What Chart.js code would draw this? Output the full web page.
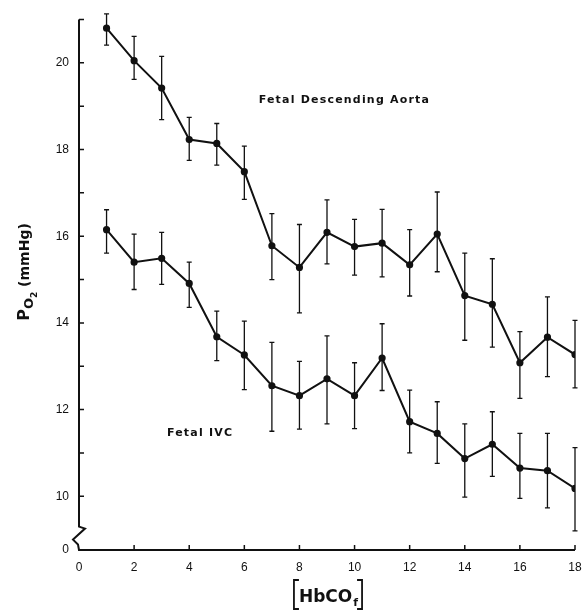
<!DOCTYPE html>
<html>
<head>
<meta charset="utf-8">
<script src="https://cdn.jsdelivr.net/npm/chart.js@4.4.0/dist/chart.umd.min.js"></script>
<style>
  html, body { margin: 0; padding: 0; background: #fff; }
</style>
</head>
<body>
<canvas id="myChartPO2" width="584" height="611"></canvas>
<script>
// HbCO fetal concentration steps
var hbco = [1, 2, 3, 4, 5, 6, 7, 8, 9, 10, 11, 12, 13, 14, 15, 16, 17, 18];

// Fetal descending aorta: mean, top and bottom of the error bar
var aortaPO2  = [20.80, 20.05, 19.42, 18.23, 18.14, 17.49, 15.78, 15.28, 16.09, 15.76, 15.84, 15.34, 16.05, 14.63, 14.43, 13.08, 13.67, 13.27];
var aortaHigh = [21.13, 20.61, 20.15, 18.74, 18.60, 18.08, 16.52, 16.27, 16.84, 16.39, 16.62, 16.15, 17.02, 15.61, 15.48, 13.80, 14.60, 14.06];
var aortaLow  = [20.41, 19.62, 18.69, 17.75, 17.64, 16.85, 15.00, 14.23, 15.36, 15.10, 15.06, 14.62, 15.18, 13.60, 13.44, 12.26, 12.76, 12.50];

// Fetal IVC
var ivcPO2  = [16.15, 15.40, 15.49, 14.91, 13.68, 13.26, 12.55, 12.32, 12.71, 12.32, 13.19, 11.72, 11.45, 10.87, 11.20, 10.65, 10.59, 10.18];
var ivcHigh = [16.61, 16.05, 16.09, 15.40, 14.27, 14.04, 13.55, 13.11, 13.70, 13.08, 13.98, 12.45, 12.18, 11.67, 11.95, 11.45, 11.45, 11.12];
var ivcLow  = [15.61, 14.77, 14.89, 14.36, 13.13, 12.46, 11.50, 11.55, 11.67, 11.56, 12.44, 11.00, 10.76,  9.98, 10.46,  9.95,  9.73,  9.20];

var xTicks = [0, 2, 4, 6, 8, 10, 12, 14, 16, 18];
var yTicks = [10, 11, 12, 13, 14, 15, 16, 17, 18, 19, 20, 21];
var yLabels = [10, 12, 14, 16, 18, 20];
// bottom of the broken axis, labelled 0
var yBottom = 8.76;
var yTop = 21;

function toPoints(xs, ys) {
    var out = [];
    for (var i = 0; i < xs.length; i++) {
        out.push({ x: xs[i], y: ys[i] });
    }
    return out;
}

var tickFont = { family: "'Liberation Sans', Arial, sans-serif", size: 12 };

// error bars, axis lines with break, inward ticks, titles and labels
var paperPlugin = {
    id: 'paperPlugin',
    beforeDatasetsDraw: function(chart) {
        var ctx = chart.ctx;
        var xs = chart.scales.x, ys = chart.scales.y;
        var sets = [[aortaHigh, aortaLow], [ivcHigh, ivcLow]];
        ctx.save();
        ctx.strokeStyle = '#111';
        ctx.lineWidth = 1.3;
        sets.forEach(function(s) {
            for (var i = 0; i < hbco.length; i++) {
                var px = xs.getPixelForValue(hbco[i]);
                var t = ys.getPixelForValue(s[0][i]);
                var b = ys.getPixelForValue(s[1][i]);
                ctx.beginPath();
                ctx.moveTo(px, t); ctx.lineTo(px, b);
                ctx.moveTo(px - 2.5, t); ctx.lineTo(px + 2.5, t);
                ctx.moveTo(px - 2.5, b); ctx.lineTo(px + 2.5, b);
                ctx.stroke();
            }
        });
        ctx.restore();
    },
    afterDraw: function(chart) {
        var ctx = chart.ctx;
        var xs = chart.scales.x, ys = chart.scales.y;
        var x0 = xs.getPixelForValue(0);
        var y0 = ys.getPixelForValue(yBottom);
        var yBreak = ys.getPixelForValue(9.3);
        ctx.save();
        ctx.strokeStyle = '#111';
        ctx.lineWidth = 2;
        ctx.lineJoin = 'miter';
        // y axis with the zigzag break
        ctx.beginPath();
        ctx.moveTo(x0, ys.getPixelForValue(yTop));
        ctx.lineTo(x0, yBreak);
        ctx.lineTo(x0 + 6, yBreak + 2);
        ctx.lineTo(x0 - 6, yBreak + 13);
        ctx.lineTo(x0 - 1, yBreak + 18);
        ctx.lineTo(x0, y0);
        ctx.lineTo(xs.getPixelForValue(18), y0);
        ctx.stroke();
        // inward ticks
        ctx.lineWidth = 1.5;
        ctx.beginPath();
        yTicks.forEach(function(v) {
            var py = ys.getPixelForValue(v);
            ctx.moveTo(x0, py); ctx.lineTo(x0 + 5, py);
        });
        xTicks.forEach(function(v) {
            if (v === 0) return;
            var px = xs.getPixelForValue(v);
            ctx.moveTo(px, y0); ctx.lineTo(px, y0 - 5);
        });
        ctx.stroke();

        // series labels
        ctx.fillStyle = '#111';
        ctx.textBaseline = 'middle';
        ctx.textAlign = 'left';
        ctx.font = "bold 11px 'DejaVu Sans', sans-serif";
        ctx.letterSpacing = '1.2px';
        ctx.fillText('Fetal Descending Aorta', xs.getPixelForValue(6.52), ys.getPixelForValue(19.13));
        ctx.fillText('Fetal IVC', xs.getPixelForValue(3.19), ys.getPixelForValue(11.45));
        ctx.letterSpacing = '0px';

        // y title: P_O2 (mmHg), rotated
        ctx.translate(24, 272);
        ctx.rotate(-Math.PI / 2);
        var parts = [
            { t: 'P', f: "bold 16px 'DejaVu Sans', sans-serif", dy: 0 },
            { t: 'O', f: "bold 13px 'DejaVu Sans', sans-serif", dy: 4 },
            { t: '2', f: "bold 9px 'DejaVu Sans', sans-serif", dy: 8 },
            { t: ' (mmHg)', f: "bold 14px 'DejaVu Sans', sans-serif", dy: 0 }
        ];
        var total = 0;
        parts.forEach(function(p) { ctx.font = p.f; p.w = ctx.measureText(p.t).width; total += p.w; });
        var cx = -total / 2;
        ctx.textBaseline = 'alphabetic';
        parts.forEach(function(p) {
            ctx.font = p.f;
            ctx.fillText(p.t, cx, 5 + p.dy);
            cx += p.w;
        });
        ctx.setTransform(1, 0, 0, 1, 0, 0);

        // x title: [HbCO_f]
        ctx.font = "bold 17px 'DejaVu Sans', sans-serif";
        var wMain = ctx.measureText('HbCO').width;
        ctx.font = "bold 11px 'DejaVu Sans', sans-serif";
        var wSub = ctx.measureText('f').width;
        var left = 328 - (wMain + wSub) / 2;
        ctx.font = "bold 17px 'DejaVu Sans', sans-serif";
        ctx.fillText('HbCO', left, 602);
        ctx.font = "bold 11px 'DejaVu Sans', sans-serif";
        ctx.fillText('f', left + wMain + 1, 606);
        ctx.lineWidth = 1.8;
        var bl = left - 5, br = left + wMain + wSub + 5;
        ctx.beginPath();
        ctx.moveTo(bl + 5, 580); ctx.lineTo(bl, 580); ctx.lineTo(bl, 609); ctx.lineTo(bl + 5, 609);
        ctx.moveTo(br - 5, 580); ctx.lineTo(br, 580); ctx.lineTo(br, 609); ctx.lineTo(br - 5, 609);
        ctx.stroke();
        ctx.restore();
    }
};

var ctxPO2 = document.getElementById('myChartPO2');
var myChartPO2 = new Chart(ctxPO2, {
    type: 'line',
    data: {
        datasets: [{
            label: 'Fetal Descending Aorta',
            data: toPoints(hbco, aortaPO2),
            borderColor: '#111',
            backgroundColor: '#111',
            borderWidth: 2,
            pointRadius: 2.6,
            tension: 0
        }, {
            label: 'Fetal IVC',
            data: toPoints(hbco, ivcPO2),
            borderColor: '#111',
            backgroundColor: '#111',
            borderWidth: 2,
            pointRadius: 2.6,
            tension: 0
        }]
    },
    options: {
        responsive: false,
        animation: false,
        devicePixelRatio: 1,
        layout: { padding: { left: 0, right: 9, top: 19.5, bottom: 0 } },
        plugins: {
            legend: { display: false },
            tooltip: { enabled: false }
        },
        scales: {
            x: {
                type: 'linear',
                min: 0,
                max: 18,
                grid: { display: false, drawTicks: false },
                border: { display: false },
                afterBuildTicks: function(scale) {
                    scale.ticks = xTicks.map(function(v) { return { value: v }; });
                },
                afterFit: function(scale) {
                    scale.height = 61;
                    scale.paddingLeft = 0;
                    scale.paddingRight = 0;
                },
                ticks: { font: tickFont, color: '#111', padding: 10, maxRotation: 0, autoSkip: false }
            },
            y: {
                type: 'linear',
                min: yBottom,
                max: yTop,
                grid: { display: false, drawTicks: false },
                border: { display: false },
                afterBuildTicks: function(scale) {
                    scale.ticks = [{ value: yBottom }].concat(yTicks.map(function(v) { return { value: v }; }));
                },
                afterFit: function(scale) {
                    scale.width = 79;
                    scale.paddingTop = 0;
                    scale.paddingBottom = 0;
                },
                ticks: {
                    font: tickFont,
                    color: '#111',
                    padding: 10,
                    autoSkip: false,
                    callback: function(value) {
                        if (value === yBottom) return '0';
                        return yLabels.indexOf(value) >= 0 ? String(value) : '';
                    }
                }
            }
        }
    },
    plugins: [paperPlugin]
});
</script>
</body>
</html>
